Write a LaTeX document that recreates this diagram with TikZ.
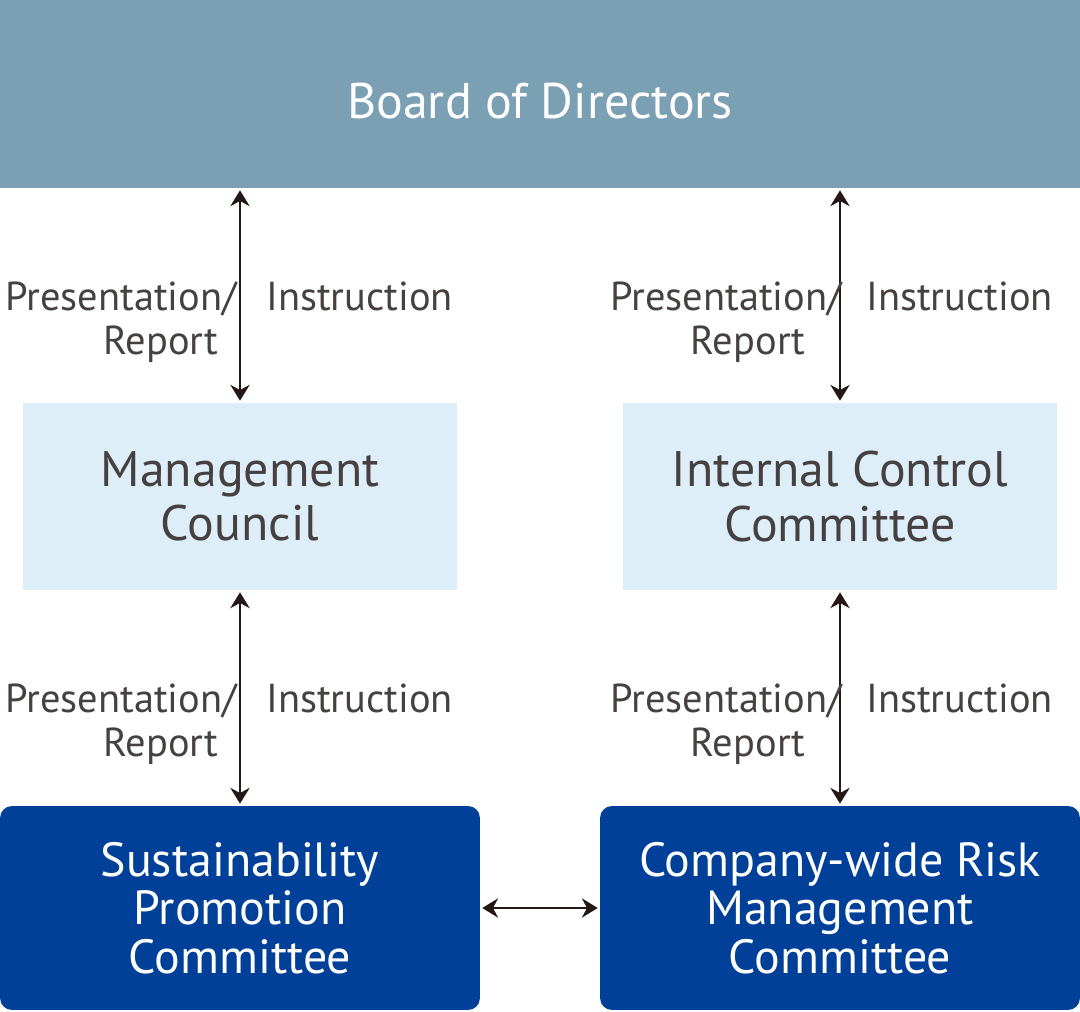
\documentclass[tikz,border=0pt]{standalone}
\usepackage{fontspec}
\setmainfont{PT Sans}
\usetikzlibrary{arrows.meta,calc}
\definecolor{boardgray}{RGB}{123,160,179}
\definecolor{paleblue}{RGB}{221,238,249}
\definecolor{deepblue}{RGB}{0,64,152}
\definecolor{textgray}{RGB}{70,64,64}
\definecolor{arrowdark}{RGB}{35,24,21}

\begin{document}
\begin{tikzpicture}[x=0.02cm,y=-0.02cm,>={Stealth[length=9pt,width=11pt]},
    board/.style={fill=boardgray,text=white,minimum width=21.6cm,minimum height=3.76cm,text height=28pt,text depth=0pt,font=\fontsize{28.5pt}{31pt}\selectfont},
    council/.style={fill=paleblue,text=textgray,minimum width=8.68cm,minimum height=3.74cm,align=center,font=\fontsize{28.4pt}{30.8pt}\selectfont},
    committee/.style={fill=deepblue,text=white,rounded corners=0.24cm,minimum width=9.6cm,minimum height=4.08cm,align=center,font=\fontsize{27.3pt}{27.5pt}\selectfont},
    lbl/.style={text=textgray,inner sep=0pt,font=\fontsize{23pt}{25pt}\selectfont},
    link/.style={<->,draw=arrowdark,line width=1.1pt,shorten <=0.04cm,shorten >=0.04cm}]
    \useasboundingbox (0,0) rectangle (1080,1012);
    \node[board] (bod) at (540,94) {Board of Directors};
    \node[council] (mc) at (240,496.5) {Management\\Council};
    \node[council] (icc) at (840,496.5) {Internal Control\\Committee};
    \node[committee] (spc) at (240,908) {Sustainability\\Promotion\\Committee};
    \node[committee] (crm) at (840,908) {Company-wide Risk\\Management\\Committee};
    \draw[link] (bod.south -| mc.north) -- (mc.north);
    \draw[link] (bod.south -| icc.north) -- (icc.north);
    \draw[link] (mc.south) -- (spc.north);
    \draw[link] (icc.south) -- (crm.north);
    \draw[link] (spc.east) -- (crm.west);
    \node[lbl,anchor=base east] (pr1) at (237,310) {Presentation/};
    \node[lbl,anchor=base east] (rp1) at (219,354) {Report};
    \node[lbl,anchor=base west] (in1) at (266,310) {Instruction};
    \node[lbl,anchor=base east] (pr2) at (842,310) {Presentation/};
    \node[lbl,anchor=base east] (rp2) at (806,354) {Report};
    \node[lbl,anchor=base west] (in2) at (866,310) {Instruction};
    \node[lbl,anchor=base east] (pr3) at (237,712) {Presentation/};
    \node[lbl,anchor=base east] (rp3) at (219,756) {Report};
    \node[lbl,anchor=base west] (in3) at (266,712) {Instruction};
    \node[lbl,anchor=base east] (pr4) at (842,712) {Presentation/};
    \node[lbl,anchor=base east] (rp4) at (806,756) {Report};
    \node[lbl,anchor=base west] (in4) at (866,712) {Instruction};
\end{tikzpicture}
\end{document}
